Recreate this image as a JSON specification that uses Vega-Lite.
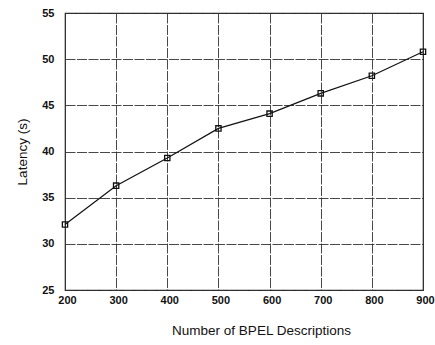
{
  "$schema": "https://vega.github.io/schema/vega-lite/v6.json",
  "width": 358,
  "height": 277,
  "autosize": {"type": "none"},
  "padding": {"left": 65, "top": 13, "right": 12, "bottom": 55},
  "background": "white",
  "data": {"values": [
    {"n": 200, "latency": 32.1},
    {"n": 300, "latency": 36.3},
    {"n": 400, "latency": 39.3},
    {"n": 500, "latency": 42.5},
    {"n": 600, "latency": 44.1},
    {"n": 700, "latency": 46.3},
    {"n": 800, "latency": 48.2},
    {"n": 900, "latency": 50.8}
  ]},
  "config": {
    "view": {"stroke": "#222", "strokeWidth": 1.2},
    "axis": {
      "labelFont": "Liberation Sans",
      "titleFont": "Liberation Sans",
      "labelFontWeight": "bold",
      "labelFontSize": 11,
      "labelColor": "#111",
      "titleColor": "#111",
      "titleFontWeight": "normal",
      "titleFontSize": 13.5,
      "gridColor": "#333",
      "gridOpacity": 1,
      "gridWidth": 0.9,
      "gridDash": [10, 1.5],
      "domain": false,
      "ticks": false
    }
  },
  "layer": [
    {
      "mark": {"type": "line", "color": "#111", "strokeWidth": 1.2},
      "encoding": {
        "x": {"field": "n", "type": "quantitative", "scale": {"domain": [200, 900], "nice": false, "zero": false},
              "axis": {"values": [200, 300, 400, 500, 600, 700, 800, 900], "title": "Number of BPEL Descriptions", "labelPadding": 4, "titlePadding": 18, "titleX": 196, "labelFlush": false, "labelOffset": 2}},
        "y": {"field": "latency", "type": "quantitative", "scale": {"domain": [25, 55], "nice": false, "zero": false},
              "axis": {"values": [25, 30, 35, 40, 45, 50, 55], "title": "Latency (s)", "labelPadding": 11, "titlePadding": 12, "labelFlush": false}}
      }
    },
    {
      "mark": {"type": "point", "shape": "square", "filled": false, "size": 28, "stroke": "#111", "strokeWidth": 1.3, "opacity": 1},
      "encoding": {
        "x": {"field": "n", "type": "quantitative"},
        "y": {"field": "latency", "type": "quantitative"}
      }
    }
  ]
}
